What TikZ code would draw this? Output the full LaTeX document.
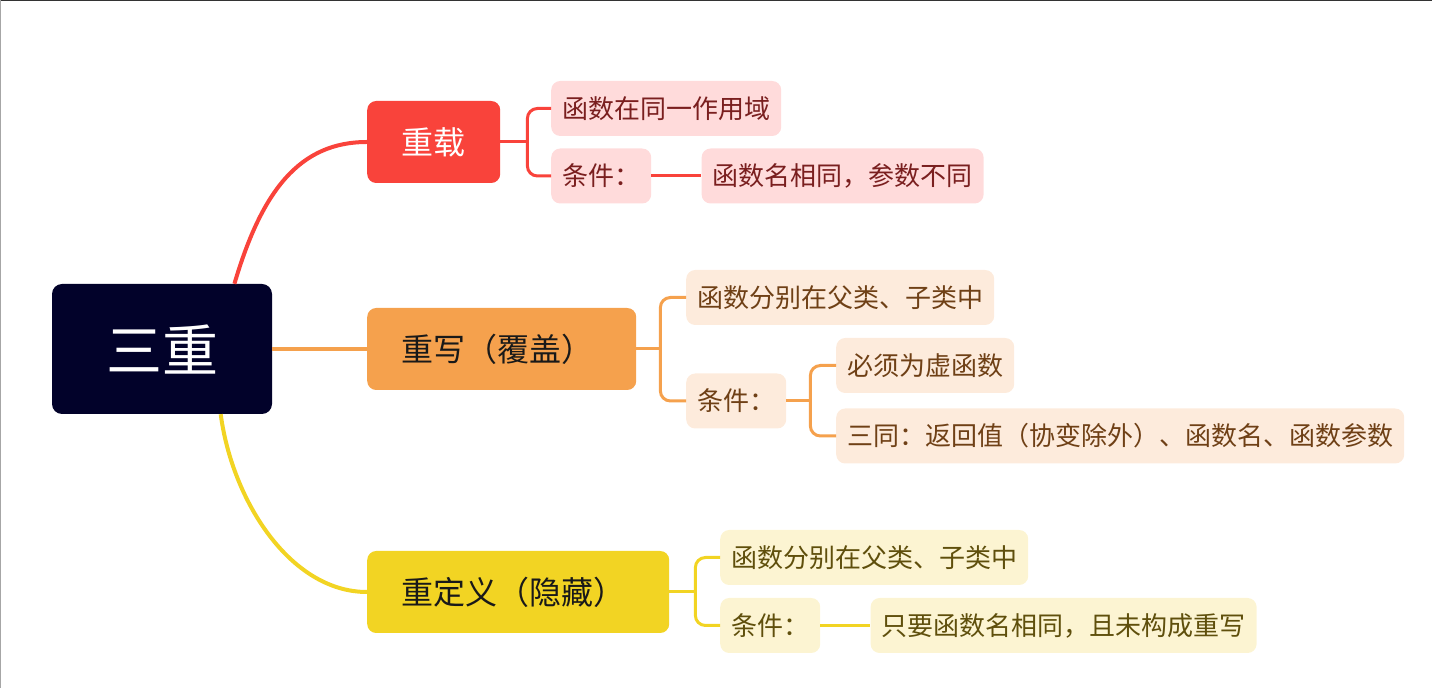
\documentclass[tikz,border=0pt]{standalone}
\usepackage{fontspec}
\usepackage{tikz}
\usetikzlibrary{positioning}
\newfontfamily\cjk{Noto Sans CJK SC}
\definecolor{navy}{HTML}{02022A}
\definecolor{redtopic}{HTML}{F9433B}
\definecolor{redleaf}{HTML}{FFDBDB}
\definecolor{redtext}{HTML}{7A1F1F}
\definecolor{orangetopic}{HTML}{F5A14D}
\definecolor{orangeleaf}{HTML}{FDEBDC}
\definecolor{orangetext}{HTML}{6F4016}
\definecolor{yellowtopic}{HTML}{F2D423}
\definecolor{yellowleaf}{HTML}{FCF4D2}
\definecolor{yellowtext}{HTML}{5F4F0C}

\begin{document}
\begin{tikzpicture}[x=1pt, y=1pt,
  rootbox/.style={fill=navy, rounded corners=10pt, minimum width=220pt, minimum height=130pt, inner sep=0pt, text=white, font=\cjk\fontsize{56}{60}\selectfont},
  topic/.style={rounded corners=9pt, minimum height=82pt, inner xsep=34pt, inner ysep=0pt, align=left, anchor=west, font=\cjk\fontsize{32}{36}\selectfont},
  leaf/.style={rounded corners=9pt, minimum height=55pt, inner xsep=11pt, inner ysep=0pt, anchor=west, font=\cjk\fontsize{26}{30}\selectfont},
  redbox/.style={leaf, fill=redleaf, text=redtext},
  orangebox/.style={leaf, fill=orangeleaf, text=orangetext},
  yellowbox/.style={leaf, fill=yellowleaf, text=yellowtext},
  branch/.style={line width=4pt},
  twig/.style={line width=3pt, rounded corners=10pt},
  node distance=50pt]
\useasboundingbox (0,0) rectangle (1432,688);
\fill[black!80] (0,686.5) rectangle (1432,688);
\fill[black!35] (0,0) rectangle (1,688);
% centre and the three topics
\node[rootbox] (root) at (162,339) {三重};
\node[topic, fill=redtopic, text=white, text width=65pt] (overload) at (367,546) {重载};
\node[topic, fill=orangetopic, text=black!90, text width=201pt] (override) at (367,339) {重写（覆盖）};
\node[topic, fill=yellowtopic, text=black!90, text width=234pt] (redefine) at (367,96) {重定义（隐藏）};
% leaves
\node[redbox] (scope) at (551,579.5) {函数在同一作用域};
\node[redbox] (cond1) at (551,512) {条件：};
\node[redbox, right=of cond1] (samename) {函数名相同，参数不同};
\node[orangebox] (parent1) at (686,390.5) {函数分别在父类、子类中};
\node[orangebox] (cond2) at (686,287) {条件：};
\node[orangebox] (virtual) at (836,322.5) {必须为虚函数};
\node[orangebox] (three) at (836,252) {三同：返回值（协变除外）、函数名、函数参数};
\node[yellowbox] (parent2) at (720,130.5) {函数分别在父类、子类中};
\node[yellowbox] (cond3) at (720,62.5) {条件：};
\node[yellowbox, right=of cond3] (hiding) {只要函数名相同，且未构成重写};
% branches
\draw[branch, redtopic] (root.42) .. controls (262,498) and (300,546) .. (overload.west);
\draw[branch, orangetopic] (root.east) -- (override.west);
\draw[branch, yellowtopic] (root.-48) .. controls (232,188) and (290,96) .. (redefine.west);
\draw[twig, redtopic] (overload.east) -- +(27,0) coordinate (redfork);
\draw[twig, redtopic] (scope.west) -| (redfork) |- (cond1.west);
\draw[twig, redtopic] (cond1.east) -- (samename.west);
\draw[twig, orangetopic] (override.east) -- +(24,0) coordinate (orangefork);
\draw[twig, orangetopic] (parent1.west) -| (orangefork) |- (cond2.west);
\draw[twig, orangetopic] (cond2.east) -- +(24,0) coordinate (condfork);
\draw[twig, orangetopic] (virtual.west) -| (condfork) |- (three.west);
\draw[twig, yellowtopic] (redefine.east) -- +(26,0) coordinate (yellowfork);
\draw[twig, yellowtopic] (parent2.west) -| (yellowfork) |- (cond3.west);
\draw[twig, yellowtopic] (cond3.east) -- (hiding.west);
\end{tikzpicture}
\end{document}
